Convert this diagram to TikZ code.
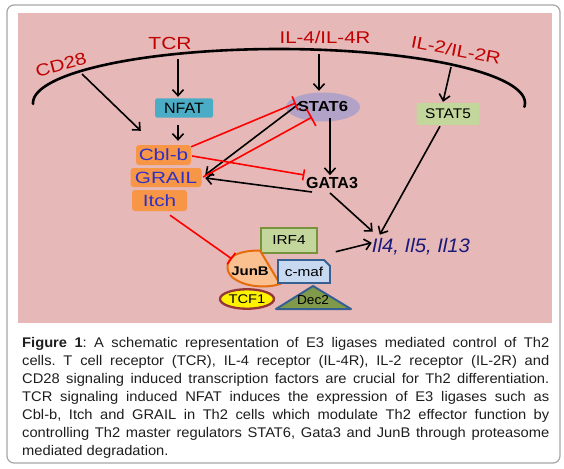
\documentclass[tikz,border=0pt]{standalone}
\usepackage{fontspec}
\setmainfont{Liberation Sans}
\usepackage{graphicx}
\usetikzlibrary{arrows.meta,shapes.geometric}
\definecolor{pinkbg}{HTML}{E6B8B7}
\definecolor{labred}{HTML}{C00000}
\definecolor{bluetxt}{HTML}{3030C8}
\definecolor{navytxt}{HTML}{1A1A7A}
\definecolor{boxorange}{HTML}{F79646}
\definecolor{nfatc}{HTML}{4BACC6}
\definecolor{stat6c}{HTML}{B3A2C7}
\definecolor{greenc}{HTML}{C3D69B}
\definecolor{greenborder}{HTML}{77933C}
\definecolor{junbfill}{HTML}{FAC090}
\definecolor{junbborder}{HTML}{E46C0A}
\definecolor{cmaffill}{HTML}{C6D9F1}
\definecolor{blueborder}{HTML}{376092}
\definecolor{tcfborder}{HTML}{953735}
\definecolor{decfill}{HTML}{7F9A48}
\definecolor{framegray}{HTML}{A6A6A6}
\definecolor{captxt}{HTML}{1E1E1E}
\newcommand{\mytx}[3]{\scalebox{#2}[1]{\fontsize{#1}{#1}\selectfont #3}}
\begin{document}
\begin{tikzpicture}[x=1pt,y=-1pt,
  arr/.style={line width=1.6pt, -{Straight Barb[length=6pt,width=11pt]}},
  inh/.style={red, line width=1.6pt, -{Bar[width=#1]}},
  inh/.default=15pt,
  obox/.style={fill=boxorange, rounded corners=3pt, inner sep=0, text=bluetxt},
  lbl/.style={text=labred, inner sep=0},
  plain/.style={inner sep=0}]
\fill[white] (0,0) rectangle (564,468);
\useasboundingbox (0,0) rectangle (564,468);
\draw[framegray, line width=1.2pt, rounded corners=7pt] (7,5) rectangle (560,463);
\fill[pinkbg] (18,13) rectangle (552,323);
% membrane arc
\draw[line width=2.6pt, line cap=round, domain=-4:181, samples=90, smooth, variable=\t]
  plot ({279+246*cos(\t)},{103-54*sin(\t)});
% receptor labels
\node[lbl, rotate=15] (cd28) at (61,65) {\mytx{17}{1.2}{CD28}};
\node[lbl] (tcr) at (170,43) {\mytx{17.5}{1.2}{TCR}};
\node[lbl] (il4r) at (325,37) {\mytx{17}{1.2}{IL-4/IL-4R}};
\node[lbl, rotate=-11] (il2r) at (456,50) {\mytx{17}{1.2}{IL-2/IL-2R}};
% factors
\node[fill=nfatc, rounded corners=1.5pt, minimum width=58, minimum height=19, inner sep=0] (nfat) at (184,108) {\mytx{15}{1.07}{NFAT}};
\node[ellipse, fill=stat6c, minimum width=74, minimum height=29, inner sep=0] (stat6) at (323,107) {\mytx{14.5}{1.15}{\bfseries STAT6}};
\node[fill=greenc, rounded corners=2pt, minimum width=63, minimum height=22, inner sep=0] (stat5) at (448,114) {\mytx{14}{1.1}{STAT5}};
\node[obox, minimum width=55, minimum height=20] (cblb) at (163.5,155) {\mytx{16.3}{1.27}{Cbl-b}};
\node[obox, minimum width=71, minimum height=19] (grail) at (166,177.5) {\mytx{16.3}{1.27}{GRAIL}};
\node[obox, minimum width=55, minimum height=21] (itch) at (159.5,200.5) {\mytx{16.3}{1.27}{Itch}};
\node[plain] (gata3) at (332,183) {\mytx{16}{1}{\bfseries GATA3}};
\node[plain, text=navytxt, anchor=base] (il) at (421,252) {\mytx{19.5}{1.04}{\itshape Il4, Il5, Il13}};
% cluster
\node[fill=greenc, draw=greenborder, line width=1.5pt, minimum width=56, minimum height=25, inner sep=0] (irf4) at (289,240.5) {\mytx{13}{1.18}{IRF4}};
\draw[fill=junbfill, draw=junbborder, line width=2pt]
  (235,255) .. controls (243,251) and (253,250.5) .. (260,250.5) -- (280,284)
  .. controls (268,288) and (245,288) .. (232,277)
  .. controls (225,270) and (226,260) .. (235,255) -- cycle;
\node[plain] (junb) at (250,271) {\mytx{12.6}{1.19}{\bfseries JunB}};
\draw[fill=cmaffill, draw=blueborder, line width=1.8pt] (278,260) -- (324,260) -- (330,266) -- (330,283) -- (278,283) -- cycle;
\node[plain] (cmaf) at (304,272) {\mytx{13}{1.18}{c-maf}};
\node[ellipse, fill=yellow, draw=tcfborder, line width=2.3pt, minimum width=54, minimum height=19.5, inner sep=0] (tcf1) at (247,299) {\mytx{12.6}{1.17}{TCF1}};
\draw[fill=decfill, draw=blueborder, line width=2pt, line join=round] (313,286) -- (351,309) -- (276,309) -- cycle;
\node[plain] (dec2) at (313,300) {\mytx{13}{1.05}{Dec2}};
% activating arrows
\draw[arr] ([shift={(21,9)}]cd28.center) -- ([shift={(5,-14)}]cblb.north west);
\draw[arr] ([shift={(8,16)}]tcr.center) -- ([shift={(-6,-1.5)}]nfat.north);
\draw[arr] ([shift={(-6,7.5)}]nfat.south) -- ([shift={(14.5,-4)}]cblb.north);
\draw[arr] ([shift={(-6,17)}]il4r.center) -- ([shift={(-4,-1.5)}]stat6.north);
\draw[arr] ([shift={(-5,17)}]il2r.center) -- ([shift={(-5,-1)}]stat5.north);
\draw[arr] ([shift={(7,11)}]stat6.center) -- ([shift={(-2,-2)}]gata3.north);
\draw[arr] ([shift={(-23,-4)}]stat6.center) -- ([shift={(3.5,-2.5)}]grail.east);
\draw[arr] ([shift={(-20,9)}]gata3.center) -- ([shift={(3.5,0.5)}]grail.east);
\draw[arr] ([shift={(-2,10)}]gata3.center) -- ([shift={(1,-6)}]il.north west);
\draw[arr] ([shift={(-8,1)}]stat5.south) -- ([shift={(8,-3)}]il.north west);
\draw[arr] ([shift={(18,-2)}]irf4.south east) -- ([shift={(0,-3.4)}]il.west);
% inhibitory lines
\draw[inh=15pt] ([shift={(0,2)}]cblb.north east) -- ([shift={(10,-4)}]stat6.west);
\draw[inh=11pt] ([shift={(1,1)}]cblb.east) -- ([shift={(-1.5,-8)}]gata3.west);
\draw[inh=19pt] ([shift={(1.5,-0.5)}]grail.east) -- ([shift={(-11,-4.5)}]stat6.south);
\draw[inh=14pt] ([shift={(10.5,4)}]itch.south) -- ([shift={(-18,-12)}]junb.center);
% caption
\node[anchor=base west, inner sep=0, text=captxt] (cap) at (22,347) {\scalebox{1.05}[1]{\parbox[t]{502pt}{\fontsize{14}{18}\selectfont\frenchspacing\tolerance=9999 \hbadness=10000 \hyphenpenalty=10000
\textbf{Figure 1}: A schematic representation of E3 ligases mediated control of Th2\linebreak
cells. T cell receptor (TCR), IL-4 receptor (IL-4R), IL-2 receptor (IL-2R) and\linebreak
CD28 signaling induced transcription factors are crucial for Th2 differentiation.\linebreak
TCR signaling induced NFAT induces the expression of E3 ligases such as\linebreak
Cbl-b, Itch and GRAIL in Th2 cells which modulate Th2 effector function by\linebreak
controlling Th2 master regulators STAT6, Gata3 and JunB through proteasome\linebreak
mediated degradation.}}};
\end{tikzpicture}
\end{document}
